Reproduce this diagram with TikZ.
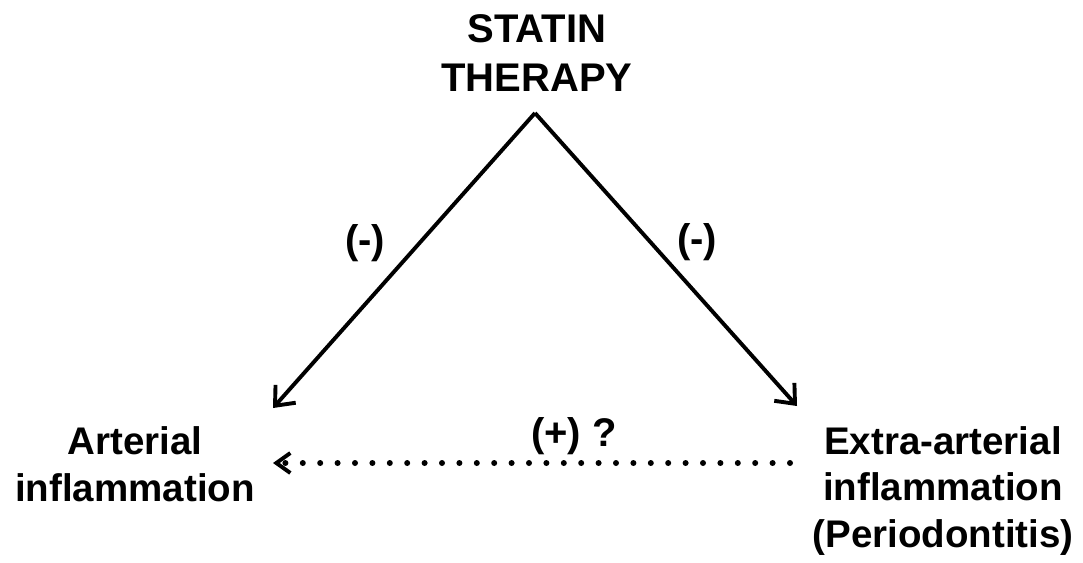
\documentclass[tikz,border=0pt]{standalone}
\usepackage{fontspec}
\setmainfont{Liberation Sans}
\usetikzlibrary{arrows.meta}
\tikzset{
  lbl/.style={font=\bfseries\fontsize{38.5}{46.5}\selectfont, inner sep=0pt, align=center, anchor=base},
  ttl/.style={font=\bfseries\fontsize{40}{49}\selectfont, inner sep=0pt, align=center, anchor=base},
  sgn/.style={font=\bfseries\fontsize{40}{48}\selectfont, inner sep=0pt, anchor=center},
  solidarrow/.style={line width=3.9pt, -{Straight Barb[length=16pt,width=27pt]}},
  dotarrow/.style={line width=6pt, line cap=round, dash pattern=on 0pt off 17.4pt,
    -{Straight Barb[length=14pt,width=20pt,line width=3.9pt,line cap=butt]}}
}
\begin{document}
\begin{tikzpicture}[x=1pt,y=-1pt]
\useasboundingbox (0,0) rectangle (1083,562);
\node[ttl] (title) at (537,91) {STATIN\\THERAPY};
\node[lbl] (art) at (135,501) {Arterial\\inflammation};
\node[lbl] (extra) at (943,547) {Extra-arterial\\inflammation\\(Periodontitis)};
\coordinate (apex) at (535,113);
\coordinate (ltip) at (273,408);
\coordinate (rtip) at (797,406);
\coordinate (dstart) at (790,463);
\coordinate (dtip) at (273,463);
\draw[solidarrow] (apex) -- (ltip);
\draw[solidarrow] (apex) -- (rtip);
\draw[dotarrow] (dstart) -- (dtip);
\node[sgn] (lm) at (365,243) {(-)};
\node[sgn] (rm) at (697,242) {(-)};
\node[sgn] (pq) at (574,436) {(+) ?};
\end{tikzpicture}
\end{document}
